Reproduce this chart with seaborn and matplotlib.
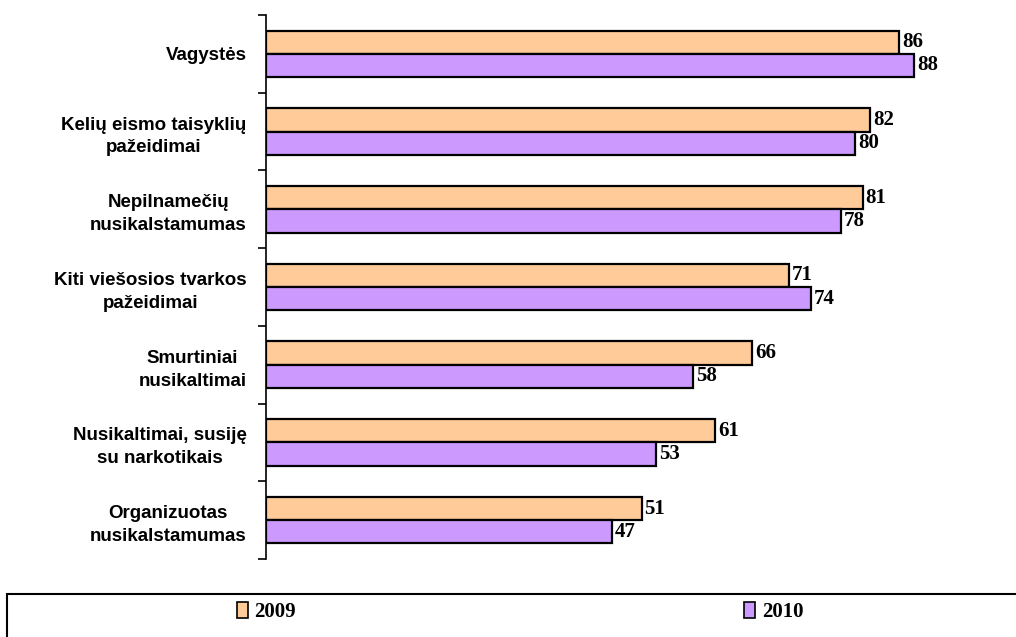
import matplotlib
matplotlib.use("Agg")
import matplotlib.pyplot as plt
import seaborn as sns
import pandas as pd
from matplotlib.patches import Rectangle

categories = [
    "Vagystės",
    "Kelių eismo taisyklių\npažeidimai",
    "Nepilnamečių\nnusikalstamumas",
    "Kiti viešosios tvarkos\npažeidimai",
    "Smurtiniai\nnusikaltimai",
    "Nusikaltimai, susiję\nsu narkotikais",
    "Organizuotas\nnusikalstamumas",
]
values_2009 = [86, 82, 81, 71, 66, 61, 51]
values_2010 = [88, 80, 78, 74, 58, 53, 47]
years = ["2009", "2010"]
colors = ["#FFCC99", "#CC99FF"]

df = pd.DataFrame({
    "category": categories * 2,
    "value": values_2009 + values_2010,
    "year": [years[0]] * len(categories) + [years[1]] * len(categories),
})

sns.set_style("white")
plt.rcParams["text.color"] = "black"
plt.rcParams["ytick.color"] = "black"
plt.rcParams["ytick.labelcolor"] = "black"

fig = plt.figure(figsize=(10.16, 6.37), dpi=100)
ax = fig.add_axes([0.2618, 0.1224, 0.725, 0.8541])

sns.barplot(data=df, y="category", x="value", hue="year", orient="h",
            palette=colors, width=0.6, edgecolor="black", linewidth=1.6,
            saturation=1, ax=ax, legend=False)

for cont in ax.containers:
    ax.bar_label(cont, padding=2, fontsize=15, fontweight="bold",
                 family="Liberation Serif", color="black")

ax.set_xlim(0, 100)
ax.set_ylim(len(categories) - 0.5, -0.5)
ax.set_xlabel("")
ax.set_ylabel("")
ax.set_xticks([])
ax.set_yticks(range(len(categories)))
ax.set_yticklabels(categories, fontsize=13.5, fontweight="bold",
                   family="Liberation Sans", multialignment="center",
                   linespacing=1.45, color="black")
ax.tick_params(axis="y", which="major", length=0, pad=14)
ax.set_yticks([i - 0.5 for i in range(len(categories) + 1)], minor=True)
ax.tick_params(axis="y", which="minor", length=6, width=1.2, color="black",
               direction="out", left=True)
for s in ["top", "right", "bottom"]:
    ax.spines[s].set_visible(False)
ax.spines["left"].set_color("black")
ax.spines["left"].set_linewidth(1.2)

# legend frame
fig.patches.append(Rectangle((7 / 1016, -0.05), 1.1, 0.05 + 43 / 637,
                             transform=fig.transFigure, fill=False,
                             edgecolor="black", linewidth=1.5))
handles = [Rectangle((0, 0), 1, 1, facecolor=c, edgecolor="black", linewidth=1.2)
           for c in colors]
fig.legend(handles, years, loc="center", bbox_to_anchor=(520 / 1016, 0.039),
           ncol=2, frameon=False, handlelength=0.55, handleheight=0.75,
           handletextpad=0.3, columnspacing=21.5,
           prop={"family": "Liberation Serif", "weight": "bold", "size": 15})

fig.savefig("out.png", dpi=100)
